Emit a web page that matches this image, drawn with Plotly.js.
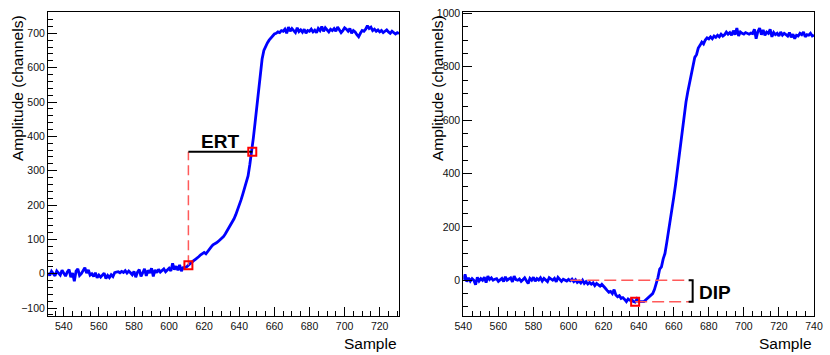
<!DOCTYPE html>
<html>
<head>
<meta charset="utf-8">
<script src="https://cdn.plot.ly/plotly-3.0.1.min.js"></script>
<style>
  html, body { margin: 0; padding: 0; background: #fff; }
  #chart { width: 830px; height: 355px; }
</style>
</head>
<body>
<div id="chart"></div>
<script>
// Waveform data (one value per sample)
const leftStart = 531;
const leftAmp = [
  2, -5, 7, 0, -6, 8, 1, -4, 10, 3,
  -7, 5, 12, -10, 2, -22, 8, 14, -5, 0,
  9, 18, 2, 11, -4, 0, -8, 3, -12, -4,
  -10, -2, 2, -14, -5, -11, -3, -8, 3, 5,
  6, 3, 7, 4, 9, 2, 8, 3, -3, 7,
  -10, 5, 12, -8, 6, 14, -6, 10, 2, 16,
  -8, 11, 3, 13, 5, 10, 14, 6, 12, 16,
  8, 30, 12, 22, 10, 26, 8, 18, 18, 20,
  25, 30, 35, 38, 42, 45, 50, 55, 60, 62,
  58, 66, 72, 78, 84, 86, 90, 94, 98, 102,
  108, 116, 124, 132, 140, 150, 160, 172, 185, 200,
  215, 232, 250, 268, 285, 318, 352, 395, 440, 490,
  545, 590, 625, 650, 662, 672, 680, 686, 690, 698,
  700, 704, 702, 708, 706, 712, 700, 718, 706, 714,
  708, 702, 716, 705, 710, 703, 712, 700, 708, 706,
  712, 704, 709, 702, 714, 708, 720, 706, 716, 710,
  704, 712, 708, 714, 706, 718, 710, 702, 708, 716,
  712, 706, 714, 700, 708, 704, 696, 690, 700, 708,
  706, 712, 722, 714, 718, 708, 712, 706, 710, 704,
  708, 702, 706, 710, 704, 700, 706, 703, 698, 702, 699
];

const rightStart = 540;
const rightAmp = [
  2, 22, -5, 9, -3, 6, 0, -17, 11, -3, 6,
  0, 11, -9, 15, 3, 9, 0, 4, 6, -4,
  2, 7, -5, 13, 0, 3, 9, -6, 15, 2,
  0, 5, -4, 2, 9, -2, -12, 7, 0, 11,
  -4, 6, 1, 9, -3, 7, 2, -5, 10, 3,
  0, 7, -6, 11, 2, -4, 4, 0, -3, 3,
  -2, 4, -5, 2, -8, -3, -10, 0, -12, -5,
  -14, -8, -15, -10, -20, -12, -18, -22, -15, -25,
  -30, -38, -45, -42, -50, -35, -55, -62, -58, -68,
  -65, -72, -80, -70, -75, -72, -80, -82, -70, -80,
  -80, -78, -80, -74, -68, -62, -55, -50, -35, -15,
  10, 42, 50, 80, 100, 140, 180, 215, 260, 310,
  356, 410, 460, 515, 570, 620, 668, 705, 740, 770,
  800, 835, 845, 870, 880, 892, 885, 900, 908, 904,
  912, 905, 915, 910, 918, 912, 922, 915, 920, 930,
  922, 928, 918, 935, 920, 945, 915, 930, 925, 922,
  928, 925, 922, 926, 924, 940, 905, 932, 945, 920,
  938, 918, 930, 925, 940, 912, 928, 920, 925, 915,
  930, 918, 925, 920, 915, 928, 910, 922, 905, 918,
  915, 925, 920, 930, 912, 920, 918, 925, 915, 918
];

// ERT markers (left): start and end of rise-time window
const ertX = [611, 647.4];
const ertY = [25, 355];
// DIP markers (right): baseline and minimum
const dipBaseX = [601, 670];
const dipMinX = [638, 670];
const dipBase = 0;
const dipMin = -81;

const axisFont = {family: 'Liberation Sans, Arial, sans-serif', size: 10.5, color: '#111'};
const titleFont = {family: 'Liberation Sans, Arial, sans-serif', size: 15.5, color: '#000'};
const W = 830, H = 355;
const px = x => x / W;
const py = y => 1 - y / H;

function xAxis(domain, range, anchor) {
  return {
    domain: domain, range: range, anchor: anchor,
    showgrid: false, zeroline: false,
    showline: true, mirror: true, linecolor: '#000', linewidth: 1,
    ticks: 'inside', ticklen: 9, tickcolor: '#000', tickwidth: 1,
    dtick: 20, tick0: 0, tickfont: axisFont,
    minor: {dtick: 5, ticks: 'inside', ticklen: 5, tickcolor: '#000'}
  };
}
function yAxis(domain, range, anchor, dtick, minorDtick) {
  return {
    domain: domain, range: range, anchor: anchor,
    showgrid: false, zeroline: false,
    showline: true, mirror: true, linecolor: '#000', linewidth: 1,
    ticks: 'inside', ticklen: 9, tickcolor: '#000', tickwidth: 1,
    dtick: dtick, tick0: 0, tickfont: axisFont,
    minor: {dtick: minorDtick, ticks: 'inside', ticklen: 5, tickcolor: '#000'}
  };
}

const yDomain = [py(316), py(12)];

const data = [
  // left panel
  {x0: leftStart, dx: 1, y: leftAmp, type: 'scatter', mode: 'lines',
   line: {color: '#0000ff', width: 2.8}, xaxis: 'x', yaxis: 'y', hoverinfo: 'skip'},
  {x: [ertX[0], ertX[0]], y: [ertY[0], ertY[1]], mode: 'lines',
   line: {color: '#ff5a5a', width: 1.5, dash: '10px,5px'}, xaxis: 'x', yaxis: 'y'},
  {x: [ertX[0], ertX[1]], y: [ertY[1], ertY[1]], mode: 'lines',
   line: {color: '#000', width: 2}, xaxis: 'x', yaxis: 'y'},
  {x: ertX, y: ertY, mode: 'markers',
   marker: {symbol: 'square-open', size: 8, color: '#ff0000', line: {width: 2, color: '#ff0000'}},
   xaxis: 'x', yaxis: 'y'},
  // right panel
  {x0: rightStart, dx: 1, y: rightAmp, type: 'scatter', mode: 'lines',
   line: {color: '#0000ff', width: 2.8}, xaxis: 'x2', yaxis: 'y2', hoverinfo: 'skip'},
  {x: dipBaseX, y: [dipBase, dipBase], mode: 'lines',
   line: {color: '#ff5a5a', width: 1.5, dash: '12px,5px'}, xaxis: 'x2', yaxis: 'y2'},
  {x: dipMinX, y: [dipMin, dipMin], mode: 'lines',
   line: {color: '#ff5a5a', width: 1.5, dash: '12px,5px'}, xaxis: 'x2', yaxis: 'y2'},
  {x: [dipBaseX[1] - 1.5, dipBaseX[1] + 0.8, dipBaseX[1] + 0.8, dipBaseX[1] - 1.5],
   y: [dipBase, dipBase, dipMin, dipMin], mode: 'lines',
   line: {color: '#000', width: 2}, xaxis: 'x2', yaxis: 'y2'},
  {x: [dipMinX[0]], y: [dipMin], mode: 'markers',
   marker: {symbol: 'square-open', size: 8, color: '#ff0000', line: {width: 2, color: '#ff0000'}},
   xaxis: 'x2', yaxis: 'y2'}
];

const layout = {
  width: W, height: H,
  margin: {l: 0, r: 0, t: 0, b: 0},
  paper_bgcolor: '#fff', plot_bgcolor: '#fff',
  showlegend: false,
  xaxis: xAxis([px(48), px(399)], [531, 731], 'y'),
  yaxis: yAxis(yDomain, [-123, 762], 'x', 100, 20),
  xaxis2: xAxis([px(463.3), px(814)], [540, 740], 'y2'),
  yaxis2: yAxis(yDomain, [-134, 1005], 'x2', 200, 50),
  annotations: [
    {xref: 'paper', yref: 'paper', x: px(399), y: py(343), xanchor: 'right', yanchor: 'middle',
     text: 'Sample', showarrow: false, font: titleFont},
    {xref: 'paper', yref: 'paper', x: px(814), y: py(343), xanchor: 'right', yanchor: 'middle',
     text: 'Sample', showarrow: false, font: titleFont},
    {xref: 'paper', yref: 'paper', x: px(18), y: py(13), xanchor: 'center', yanchor: 'top',
     text: 'Amplitude (channels)', textangle: -90, showarrow: false, font: titleFont},
    {xref: 'paper', yref: 'paper', x: px(438), y: py(13), xanchor: 'center', yanchor: 'top',
     text: 'Amplitude (channels)', textangle: -90, showarrow: false, font: titleFont},
    {xref: 'x', yref: 'y', x: (ertX[0] + ertX[1]) / 2, y: 385, xanchor: 'center', yanchor: 'middle',
     text: '<b>ERT</b>', showarrow: false,
     font: {family: 'Liberation Sans, Arial, sans-serif', size: 19, color: '#000'}},
    {xref: 'x2', yref: 'y2', x: 673.5, y: -46, xanchor: 'left', yanchor: 'middle',
     text: '<b>DIP</b>', showarrow: false,
     font: {family: 'Liberation Sans, Arial, sans-serif', size: 19, color: '#000'}}
  ]
};

Plotly.newPlot('chart', data, layout, {staticPlot: true, displayModeBar: false});
</script>
</body>
</html>
